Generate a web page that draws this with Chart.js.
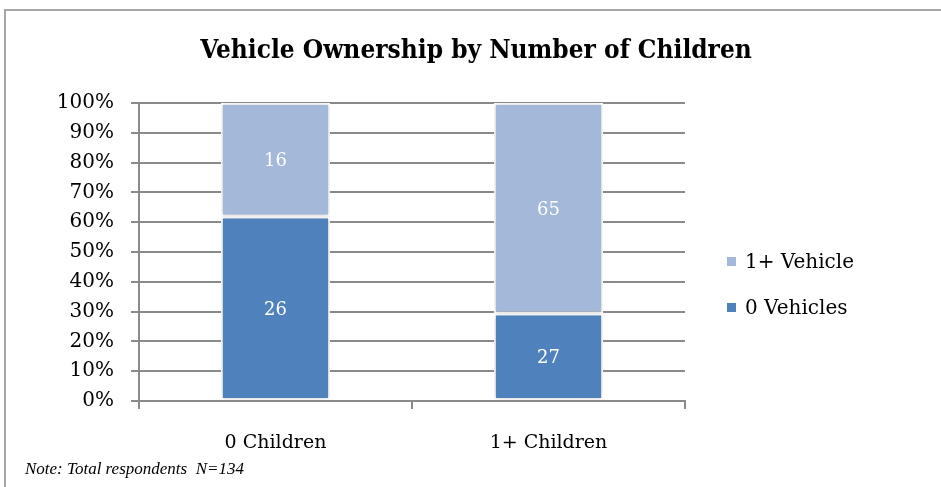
<!DOCTYPE html>
<html>
<head>
<meta charset="utf-8">
<script src="https://cdn.jsdelivr.net/npm/chart.js@4.4.1/dist/chart.umd.min.js"></script>
<style>
  html, body { margin: 0; padding: 0; background: #fff; }
  #wrap { width: 941px; height: 487px; position: relative; }
</style>
</head>
<body>
<div id="wrap"><canvas id="chart" width="941" height="487"></canvas></div>
<script>
// data
const categories = ['0 Children', '1+ Children'];
const zeroVehicles = [26, 27];
const onePlusVehicles = [16, 65];
const seriesNames = ['0 Vehicles', '1+ Vehicle'];
const title = 'Vehicle Ownership by Number of Children';
const note = 'Note: Total respondents  N=134';

const serif = "'DejaVu Serif', 'Liberation Serif', serif";

// each column is shown as a share of its own total
const toShare = arr => arr.map((v, i) => v / (zeroVehicles[i] + onePlusVehicles[i]) * 100);

// soft shadow behind the bars, then the counts inside the segments
const barExtras = {
  id: 'barExtras',
  beforeDatasetsDraw(chart) {
    const ctx = chart.ctx;
    ctx.save();
    ctx.shadowColor = 'rgba(0,0,0,0.22)';
    ctx.shadowBlur = 4;
    ctx.shadowOffsetX = 0;
    ctx.shadowOffsetY = 0;
  },
  afterDatasetsDraw(chart) {
    const ctx = chart.ctx;
    ctx.restore();
    ctx.save();
    ctx.fillStyle = '#ffffff';
    ctx.font = "18px " + serif;
    ctx.textAlign = 'center';
    ctx.textBaseline = 'middle';
    chart.data.datasets.forEach((ds, di) => {
      chart.getDatasetMeta(di).data.forEach((bar, i) => {
        const p = bar.getCenterPoint();
        ctx.fillText(String(ds.counts[i]), p.x, p.y + 2);
      });
    });
    ctx.restore();
  }
};

// frame, title, legend on the right and the footnote
const extras = {
  id: 'extras',
  beforeDraw(chart) {
    const ctx = chart.ctx;
    ctx.save();
    ctx.strokeStyle = '#a6a6a6';
    ctx.lineWidth = 2;
    ctx.beginPath();
    ctx.moveTo(5, 487);
    ctx.lineTo(5, 10);
    ctx.lineTo(941, 10);
    ctx.stroke();
    ctx.restore();
  },
  afterDraw(chart) {
    const ctx = chart.ctx;
    ctx.save();
    ctx.fillStyle = '#000';
    ctx.textAlign = 'center';
    ctx.textBaseline = 'middle';
    ctx.font = "bold 26px 'DejaVu Serif Condensed', 'DejaVu Serif', serif";
    ctx.fillText(title, 476, 51);

    ctx.textAlign = 'left';
    ctx.font = "20px " + serif;
    const items = chart.data.datasets.slice().reverse();
    items.forEach((ds, k) => {
      const y = 263 + k * 46;
      ctx.fillStyle = ds.backgroundColor;
      ctx.fillRect(727, y - 6, 9, 9);
      ctx.fillStyle = '#000';
      ctx.fillText(ds.label, 745, y);
    });
    ctx.font = "italic 17px 'Liberation Serif', serif";
    ctx.fillText(note, 25, 470);
    ctx.restore();
  }
};

new Chart(document.getElementById('chart'), {
  type: 'bar',
  data: {
    labels: categories,
    datasets: [
      {
        label: seriesNames[0],
        data: toShare(zeroVehicles),
        counts: zeroVehicles,
        backgroundColor: '#4f81bd',
        borderColor: '#ffffff',
        borderWidth: 2,
        borderSkipped: false
      },
      {
        label: seriesNames[1],
        data: toShare(onePlusVehicles),
        counts: onePlusVehicles,
        backgroundColor: '#a4b8da',
        borderColor: '#ffffff',
        borderWidth: 2,
        borderSkipped: false
      }
    ]
  },
  options: {
    responsive: false,
    animation: false,
    layout: { padding: { top: 103, left: 0, right: 256, bottom: 0 } },
    datasets: { bar: { barPercentage: 0.4, categoryPercentage: 1 } },
    plugins: {
      legend: { display: false },
      tooltip: { enabled: false },
      title: { display: false }
    },
    scales: {
      x: {
        stacked: true,
        grid: { drawOnChartArea: false, drawTicks: true, tickLength: 8, color: '#8a8a8a', lineWidth: 2 },
        border: { display: true, color: '#8a8a8a', width: 2 },
        ticks: { color: '#000', padding: 23, font: { family: serif, size: 19 } },
        afterFit(scale) { scale.height = 86; }
      },
      y: {
        stacked: true,
        min: 0,
        max: 100,
        grid: { color: '#8a8a8a', lineWidth: 2, tickLength: 8 },
        border: { display: true, color: '#8a8a8a', width: 2 },
        ticks: {
          stepSize: 10,
          color: '#000',
          padding: 17,
          font: { family: serif, size: 20 },
          callback: v => v + '%'
        },
        afterFit(scale) { scale.width = 139; }
      }
    }
  },
  plugins: [barExtras, extras]
});
</script>
</body>
</html>
